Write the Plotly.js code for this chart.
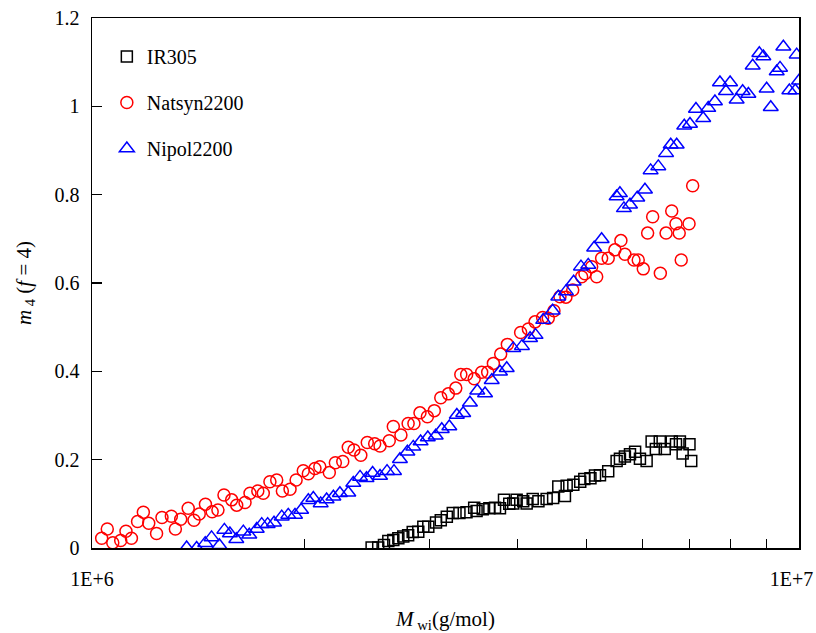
<!DOCTYPE html>
<html>
<head>
<meta charset="utf-8">
<script src="https://cdn.plot.ly/plotly-3.0.1.min.js"></script>
<style>html,body{margin:0;padding:0;background:#fff;}#chart{width:816px;height:633px;}</style>
</head>
<body>
<div id="chart"></div>
<script>
// IR305
var irM = [2.486,2.540,2.588,2.625,2.668,2.712,2.756,2.80,2.842,2.894,2.942,2.99,3.066,3.114,3.176,3.238,3.309,3.386,3.472,3.499,3.570,3.648,3.716,3.776,3.826,3.892,3.943,3.987,4.073,4.119,4.201,4.28,4.396,4.49,4.566,4.666,4.692,4.795,4.904,4.97,5.07,5.146,5.23,5.372,5.521,5.581,5.672,5.767,5.864,5.957,6.088,6.188,6.274,6.355,6.458,6.607,6.699,6.785,6.846,7.0,7.04];
var irY = [0.001,0.001,0.007,0.016,0.018,0.022,0.026,0.029,0.036,0.037,0.048,0.048,0.058,0.063,0.071,0.079,0.079,0.081,0.091,0.084,0.088,0.090,0.091,0.090,0.109,0.100,0.101,0.109,0.106,0.101,0.111,0.106,0.111,0.113,0.139,0.118,0.141,0.143,0.150,0.156,0.158,0.164,0.165,0.174,0.197,0.202,0.207,0.212,0.218,0.202,0.197,0.241,0.224,0.241,0.224,0.241,0.235,0.241,0.214,0.235,0.197];
// Natsyn2200
var natM = [1.032,1.051,1.070,1.098,1.117,1.137,1.160,1.182,1.203,1.234,1.256,1.295,1.312,1.335,1.368,1.394,1.418,1.447,1.479,1.507,1.537,1.576,1.602,1.646,1.673,1.716,1.747,1.785,1.825,1.859,1.906,1.944,1.99,2.023,2.067,2.1,2.166,2.209,2.263,2.304,2.347,2.4,2.451,2.511,2.555,2.633,2.668,2.735,2.8,2.853,2.910,2.981,3.049,3.114,3.192,3.270,3.324,3.388,3.472,3.558,3.628,3.696,3.785,3.868,4.039,4.142,4.233,4.339,4.419,4.502,4.591,4.681,4.786,4.927,4.980,5.090,5.174,5.258,5.372,5.49,5.599,5.672,5.842,5.924,6.022,6.108,6.209,6.366,6.486,6.607,6.699,6.77,6.814,6.99,7.073];
var natY = [0.022,0.043,0.012,0.017,0.038,0.022,0.060,0.081,0.056,0.033,0.069,0.072,0.043,0.065,0.090,0.063,0.077,0.099,0.082,0.086,0.120,0.109,0.097,0.103,0.124,0.129,0.124,0.150,0.154,0.129,0.133,0.154,0.175,0.168,0.180,0.184,0.171,0.193,0.196,0.228,0.222,0.210,0.239,0.236,0.231,0.243,0.275,0.256,0.282,0.282,0.306,0.297,0.311,0.340,0.349,0.362,0.393,0.393,0.383,0.398,0.398,0.418,0.439,0.461,0.488,0.496,0.512,0.522,0.520,0.537,0.569,0.568,0.584,0.614,0.621,0.637,0.614,0.656,0.656,0.675,0.696,0.665,0.652,0.652,0.632,0.713,0.750,0.622,0.713,0.763,0.734,0.713,0.652,0.734,0.820];
// Nipol2200
var nipM = [1.361,1.406,1.446,1.476,1.514,1.539,1.567,1.600,1.637,1.669,1.710,1.738,1.772,1.809,1.855,1.895,1.937,1.976,2.023,2.056,2.106,2.147,2.195,2.242,2.304,2.342,2.394,2.445,2.494,2.555,2.614,2.674,2.726,2.793,2.847,2.916,2.985,3.063,3.124,3.202,3.281,3.350,3.424,3.507,3.597,3.676,3.776,3.860,3.943,4.056,4.165,4.240,4.347,4.483,4.566,4.681,4.800,4.916,5.034,5.132,5.258,5.521,5.581,5.654,5.767,5.905,6.055,6.168,6.324,6.486,6.585,6.714,6.882,7.011,7.149,7.320,7.441,7.605,7.730,7.883,7.99,8.162,8.323,8.48,8.600,8.788,8.904,9.0,9.121,9.300,9.401,9.503,9.690,9.880,9.925,10.0];
var nipY = [0.001,0.0,0.011,0.024,0.006,0.041,0.033,0.020,0.037,0.030,0.043,0.054,0.054,0.057,0.071,0.075,0.075,0.086,0.108,0.113,0.101,0.110,0.116,0.124,0.125,0.147,0.161,0.158,0.170,0.163,0.174,0.174,0.201,0.218,0.229,0.241,0.250,0.254,0.269,0.275,0.301,0.305,0.329,0.356,0.350,0.380,0.399,0.407,0.452,0.457,0.475,0.482,0.516,0.537,0.569,0.581,0.603,0.637,0.641,0.680,0.699,0.796,0.803,0.769,0.777,0.793,0.811,0.855,0.864,0.894,0.913,0.913,0.956,0.960,0.994,0.973,0.996,1.011,1.054,1.034,1.054,1.015,1.034,1.028,1.092,1.120,1.113,1.040,0.998,1.079,1.087,1.135,1.036,1.036,1.117,1.058];

var xTickVals = [1e6,2e6,3e6,4e6,5e6,6e6,7e6,8e6,9e6,1e7];
var xTickText = ['1E+6','','','','','','','','','1E+7&nbsp;&nbsp;&nbsp;'];

function toMol(arr){ return arr.map(function(v){ return v*1e6; }); }

var FONT = 'Liberation Serif, Times New Roman, serif';

var traces = [
  {x: toMol(irM), y: irY, name: 'IR305', type: 'scatter', mode: 'markers', legendgroup: 'a',
   marker: {symbol: 'square-open', size: 11, color: '#000000', line: {width: 1.5, color: '#000000'}}},
  {x: toMol(natM), y: natY, name: 'Natsyn2200', type: 'scatter', mode: 'markers', legendgroup: 'b',
   marker: {symbol: 'circle-open', size: 12, color: '#ff0000', line: {width: 1.5, color: '#ff0000'}}},
  {x: toMol(nipM), y: nipY, name: 'Nipol2200', type: 'scatter', mode: 'markers', legendgroup: 'c',
   marker: {symbol: 'triangle-up-open', size: 13, color: '#0000ff', line: {width: 1.5, color: '#0000ff'}}}
];

var layout = {
  width: 816, height: 633,
  margin: {l: 92, r: 17, t: 18, b: 85},
  paper_bgcolor: '#ffffff', plot_bgcolor: '#ffffff',
  font: {family: FONT, size: 20, color: '#000000'},
  showlegend: true,
  legend: {x: 0.021, y: 0.964, xanchor: 'left', yanchor: 'top', bgcolor: 'rgba(0,0,0,0)',
           font: {family: FONT, size: 20}, traceorder: 'grouped', tracegroupgap: 17},
  xaxis: {type: 'log', range: [6, 7], tickmode: 'array', tickvals: xTickVals, ticktext: xTickText,
          ticks: 'inside', ticklen: 9, tickwidth: 1.2, tickcolor: '#000',
          showline: true, linewidth: 1.5, linecolor: '#000', mirror: true,
          showgrid: false, zeroline: false, ticklabelstandoff: 12, ticklabeloverflow: 'allow',
          tickfont: {family: FONT, size: 20},
          title: {text: '<i>M</i><sub> wi</sub>(g/mol)', font: {family: FONT, size: 21}, standoff: 24}},
  yaxis: {range: [0, 1.2], tickmode: 'array', tickvals: [0,0.2,0.4,0.6,0.8,1,1.2], ticktext: ['0','0.2','0.4','0.6','0.8','1','1.2'],
          ticks: 'inside', ticklen: 10, tickwidth: 1.2, tickcolor: '#000',
          showline: true, linewidth: 1.5, linecolor: '#000', mirror: true,
          showgrid: false, zeroline: false, ticklabelstandoff: 7,
          tickfont: {family: FONT, size: 20},
          title: {text: '<i>m</i><sub> 4</sub> (<i>f</i> = 4)', font: {family: FONT, size: 21}, standoff: 17}}
};

Plotly.newPlot('chart', traces, layout, {displayModeBar: false, staticPlot: true});
</script>
</body>
</html>
